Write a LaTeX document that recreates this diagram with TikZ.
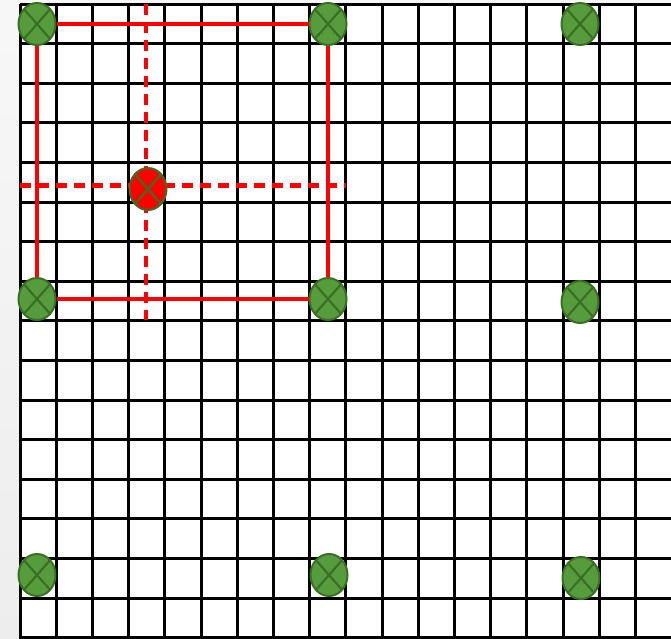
\documentclass[tikz,border=0pt]{standalone}
\usetikzlibrary{shapes.geometric}
\definecolor{gfill}{RGB}{86,156,60}
\definecolor{gline}{RGB}{58,112,36}
\tikzset{
  gridline/.style={black,line width=3pt},
  pathred/.style={red,line width=4.5pt},
  dashred/.style={red,line width=4.5pt,dash pattern=on 11pt off 7pt},
  xmark/.style={ellipse,draw=gline,line width=2pt,minimum width=37pt,minimum height=42pt,inner sep=0pt,
    path picture={\draw[gline,line width=2.2pt] (path picture bounding box.north west) -- (path picture bounding box.south east)
      (path picture bounding box.north east) -- (path picture bounding box.south west);}},
  gnode/.style={xmark,fill=gfill},
  rnode/.style={xmark,fill=red},
}
\begin{document}
\begin{tikzpicture}[x=1pt,y=-1pt]
\useasboundingbox (0,0) rectangle (671,638);
\shade[top color=gray!6,bottom color=gray!14] (0,0) rectangle (20,638);
\fill[gray!6] (20,0) rectangle (671,4);
% grid
\foreach \i in {0,...,17} {
  \draw[gridline] ({20+36.2*\i},4) -- ({20+36.2*\i},640);
}
\foreach \j in {0,...,16} {
  \draw[gridline] (20,{4+39.6*\j}) -- (673,{4+39.6*\j});
}
% dashed guide coordinates
\coordinate (dvt) at (146,4);
\coordinate (dvb) at (146,320);
\coordinate (dhl) at (20,185.5);
\coordinate (dhr) at (346,185.5);
\draw[dashred] (dvt) -- (dvb);
\draw[dashred] (dhl) -- (dhr);
% nodes
\node[gnode] (TL) at (37,24) {};
\node[gnode] (TM) at (328,24) {};
\node[gnode] (TR) at (580,24) {};
\node[gnode] (ML) at (37,299) {};
\node[gnode] (MM) at (328,299) {};
\node[gnode] (MR) at (580,302) {};
\node[gnode] (BL) at (37,575) {};
\node[gnode] (BM) at (329,575) {};
\node[gnode] (BR) at (581,578) {};
\node[rnode] (R) at (148,189) {};
% solid red rectangle
\draw[pathred] (TL) -- (TM);
\draw[pathred] (TL) -- (ML);
\draw[pathred] (TM) -- (MM);
\draw[pathred] (ML) -- (MM);
\end{tikzpicture}
\end{document}
